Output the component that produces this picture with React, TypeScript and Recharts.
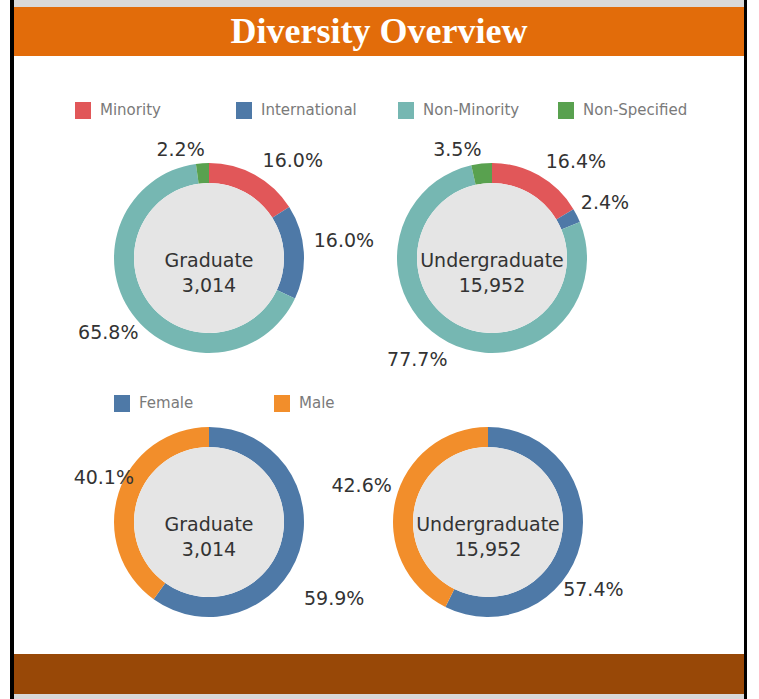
import React from "react";
import { PieChart, Pie, Cell } from "recharts";

// shares in percent, order = clockwise from 12 o'clock
const ethnicityNames = ["Minority", "International", "Non-Minority", "Non-Specified"];
const ethnicityColors = ["#e15759", "#4e79a7", "#76b7b2", "#59a14f"];
const gradEthnicity = [16.0, 16.0, 65.8, 2.2];
const undergradEthnicity = [16.4, 2.4, 77.7, 3.5];

const genderNames = ["Female", "Male"];
const genderColors = ["#4e79a7", "#f28e2b"];
const gradGender = [59.9, 40.1];
const undergradGender = [57.4, 42.6];

const levelNames = ["Graduate", "Undergraduate"];
const levelTotals = [3014, 15952];

const FONT = "'DejaVu Sans', Verdana, sans-serif";
const RADIAN = Math.PI / 180;

const toRows = (names: string[], values: number[]) =>
  names.map((name, i) => ({ name, value: values[i] }));

const fmtInt = (n: number) => String(n).replace(/\B(?=(\d{3})+(?!\d))/g, ",");

// label placed just outside the ring, with a small per-slice nudge (like tableau's label placement)
const makePctLabel = (nudge: number[][]) => (props: any) => {
  const { cx, cy, midAngle, outerRadius, value, index } = props;
  const r = outerRadius + 10;
  const x = cx + r * Math.cos(-midAngle * RADIAN);
  const y = cy + r * Math.sin(-midAngle * RADIAN);
  const [dx, dy] = nudge[index] || [0, 0];
  return (
    <text
      x={x + dx}
      y={y + dy}
      textAnchor={x > cx ? "start" : "end"}
      dominantBaseline="central"
      fill="#333"
      fontSize={19}
      fontFamily={FONT}
    >
      {value.toFixed(1)}%
    </text>
  );
};

const renderCenter = (props: any) => {
  const { cx, cy, name, value } = props;
  return (
    <g>
      <text x={cx} y={cy + 2} textAnchor="middle" dominantBaseline="central" fill="#333" fontSize={19} fontFamily={FONT}>
        {name}
      </text>
      <text x={cx} y={cy + 27} textAnchor="middle" dominantBaseline="central" fill="#333" fontSize={19} fontFamily={FONT}>
        {fmtInt(value)}
      </text>
    </g>
  );
};

const LegendItem = ({ left, top, color, label }: { left: number; top: number; color: string; label: string }) => (
  <div style={{ position: "absolute", left, top, display: "flex", alignItems: "center", whiteSpace: "nowrap" }}>
    <div style={{ width: 16, height: 17, background: color, marginRight: 9 }} />
    <span style={{ fontFamily: FONT, fontSize: 15, color: "#7a7a7a" }}>{label}</span>
  </div>
);

const Donut = ({ cx, cy, names, values, colors, level, total, nudge }: any) => [
  <Pie
    key={`ring-${level}-${cx}-${cy}`}
    data={toRows(names, values)}
    dataKey="value"
    cx={cx}
    cy={cy}
    innerRadius={75}
    outerRadius={95}
    startAngle={90}
    endAngle={-270}
    stroke="none"
    label={makePctLabel(nudge)}
    labelLine={false}
    isAnimationActive={false}
  >
    {names.map((n: string, i: number) => (
      <Cell key={n} fill={colors[i]} />
    ))}
  </Pie>,
  <Pie
    key={`hole-${level}-${cx}-${cy}`}
    data={[{ name: level, value: total }]}
    dataKey="value"
    cx={cx}
    cy={cy}
    innerRadius={0}
    outerRadius={75}
    startAngle={90}
    endAngle={-270}
    fill="#e5e5e5"
    stroke="none"
    label={renderCenter}
    labelLine={false}
    isAnimationActive={false}
  />,
];

export default function App() {
  const legendTop = [75, 236, 398, 558];
  const legendBottom = [114, 274];
  return (
    <div style={{ position: "absolute", left: 0, top: 0, width: 759, height: 699, background: "#fff", overflow: "hidden" }}>
      {/* frame */}
      <div style={{ position: "absolute", left: 10, top: 0, width: 4, height: 699, background: "#000" }} />
      <div style={{ position: "absolute", left: 744, top: 0, width: 3, height: 699, background: "#000" }} />
      <div style={{ position: "absolute", left: 14, top: 0, width: 730, height: 7, background: "#d9d9d9" }} />
      <div
        style={{
          position: "absolute",
          left: 14,
          top: 7,
          width: 730,
          height: 49,
          background: "#e26c0a",
          color: "#fff",
          fontFamily: "'Liberation Serif', 'Times New Roman', serif",
          fontWeight: "bold",
          fontSize: 36,
          lineHeight: "49px",
          textAlign: "center",
        }}
      >
        Diversity Overview
      </div>
      <div style={{ position: "absolute", left: 14, top: 654, width: 730, height: 40, background: "#984807" }} />
      <div style={{ position: "absolute", left: 14, top: 694, width: 730, height: 5, background: "#d9d9d9" }} />

      {ethnicityNames.map((n, i) => (
        <LegendItem key={n} left={legendTop[i]} top={101} color={ethnicityColors[i]} label={n} />
      ))}
      {genderNames.map((n, i) => (
        <LegendItem key={n} left={legendBottom[i]} top={394} color={genderColors[i]} label={n} />
      ))}

      <div style={{ position: "absolute", left: 14, top: 56 }}>
        <PieChart width={730} height={598} margin={{ top: 0, right: 0, bottom: 0, left: 0 }}>
          {Donut({
            cx: 195, cy: 202, names: ethnicityNames, values: gradEthnicity, colors: ethnicityColors,
            level: levelNames[0], total: levelTotals[0],
            nudge: [[3, -6], [0, -11], [14, 12], [3, -4]],
          })}
          {Donut({
            cx: 478, cy: 202, names: ethnicityNames, values: undergradEthnicity, colors: ethnicityColors,
            level: levelNames[1], total: levelTotals[1],
            nudge: [[2, -6], [-5, -9], [4, 8], [1, -5]],
          })}
          {Donut({
            cx: 195, cy: 466, names: genderNames, values: gradGender, colors: genderColors,
            level: levelNames[0], total: levelTotals[0],
            nudge: [[-5, 44], [25, -13]],
          })}
          {Donut({
            cx: 474, cy: 466, names: genderNames, values: undergradGender, colors: genderColors,
            level: levelNames[1], total: levelTotals[1],
            nudge: [[-27, 43], [6, -13]],
          })}
        </PieChart>
      </div>
    </div>
  );
}
